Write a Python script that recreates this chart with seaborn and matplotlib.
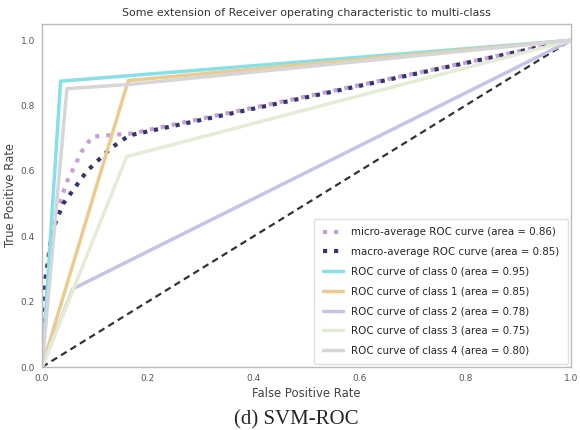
import numpy as np
import pandas as pd
import seaborn as sns
import matplotlib.pyplot as plt

# ROC curve points (fpr, tpr)
micro_fpr = [0.0, 0.004, 0.02, 0.045, 0.075, 0.095, 0.13, 0.17, 1.0]
micro_tpr = [0.0, 0.25, 0.43, 0.56, 0.66, 0.705, 0.71, 0.715, 1.0]
macro_fpr = [0.0, 0.005, 0.02, 0.04, 0.085, 0.13, 0.165, 1.0]
macro_tpr = [0.0, 0.25, 0.42, 0.5, 0.6, 0.67, 0.709, 1.0]
class_fpr = [
    [0.0, 0.035, 1.0],
    [0.0, 0.163, 1.0],
    [0.0, 0.058, 1.0],
    [0.0, 0.16, 1.0],
    [0.0, 0.047, 0.165, 1.0],
]
class_tpr = [
    [0.0, 0.875, 1.0],
    [0.0, 0.877, 1.0],
    [0.0, 0.239, 1.0],
    [0.0, 0.644, 1.0],
    [0.0, 0.852, 0.865, 1.0],
]
class_auc = [0.95, 0.85, 0.78, 0.75, 0.80]
micro_auc = 0.86
macro_auc = 0.85

class_colors = ['#86e0e8', '#eccb8e', '#c3c5e6', '#e3edd5', '#d6d6da']

sns.set_style('white')
plt.rcParams['font.family'] = ['DejaVu Sans']

fig = plt.figure(figsize=(5.8, 4.3), dpi=100)
ax = fig.add_axes([0.0725, 0.1465, 0.912, 0.7977])

sns.lineplot(x=[0, 1], y=[0, 1], color='#333333', linestyle=(0, (3, 2)), linewidth=1.6, ax=ax, sort=False)
sns.lineplot(x=micro_fpr, y=micro_tpr, color='#c7a0d8', linestyle=':', linewidth=3,
             label=f'micro-average ROC curve (area = {micro_auc:.2f})', ax=ax, sort=False)
sns.lineplot(x=macro_fpr, y=macro_tpr, color='#34366e', linestyle=':', linewidth=3,
             label=f'macro-average ROC curve (area = {macro_auc:.2f})', ax=ax, sort=False)
for i in range(5):
    sns.lineplot(x=class_fpr[i], y=class_tpr[i], color=class_colors[i], linewidth=2.5,
                 label=f'ROC curve of class {i} (area = {class_auc[i]:.2f})', ax=ax, sort=False)

ax.set_xlim(0.0, 1.0)
ax.set_ylim(0.0, 1.05)
ax.set_xticks([0.0, 0.2, 0.4, 0.6, 0.8, 1.0])
ax.set_yticks([0.0, 0.2, 0.4, 0.6, 0.8, 1.0])
ax.tick_params(labelsize=6.5, colors='#555555', length=0, pad=5)
for s in ax.spines.values():
    s.set_color('#bbbbbb')
    s.set_linewidth(1.0)
ax.set_xlabel('False Positive Rate', fontsize=8.4, color='#444444', labelpad=3)
ax.set_ylabel('True Positive Rate', fontsize=8.4, color='#444444', labelpad=3)
ax.set_title('Some extension of Receiver operating characteristic to multi-class',
             fontsize=7.9, color='#333333', pad=6)
ax.legend(loc='lower right', fontsize=7.4, labelspacing=0.95, frameon=True,
          edgecolor='#dddddd', framealpha=1.0, borderpad=0.8, handlelength=2.0,
          borderaxespad=0.3)

fig.text(0.51, 0.024, '(d) SVM-ROC', ha='center', va='center', fontsize=15, family='Liberation Serif')

fig.savefig('out.png', dpi=100)
